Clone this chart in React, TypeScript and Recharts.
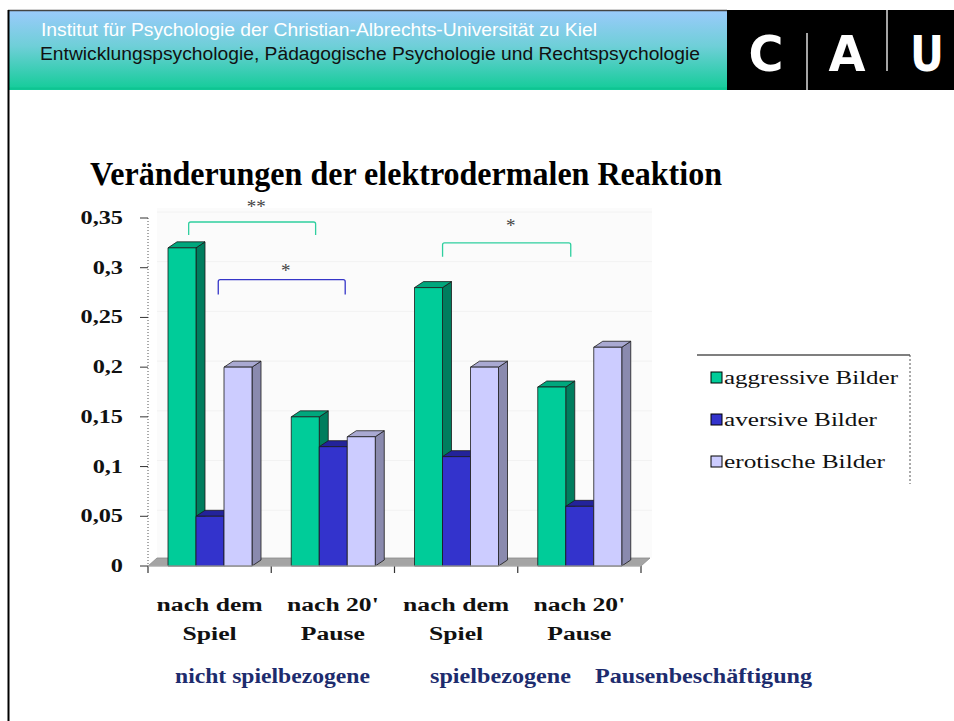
import { BarChart, Bar, XAxis, YAxis, Legend } from "recharts";

// categories (two-line tick labels)
const tickLine1 = ["nach dem", "nach 20'", "nach dem", "nach 20'"];
const tickLine2 = ["Spiel", "Pause", "Spiel", "Pause"];

// series values
const aggressive = [0.32, 0.15, 0.28, 0.18];
const aversive = [0.05, 0.12, 0.11, 0.06];
const erotic = [0.2, 0.13, 0.2, 0.22];

const yTicks = [0, 0.05, 0.1, 0.15, 0.2, 0.25, 0.3, 0.35];
const groupLabels = ["nicht spielbezogene", "spielbezogene", "Pausenbeschäftigung"];

// significance brackets: category position (index + fraction), values in data units
const bracketFrom = [0.33, 0.57, 2.39];
const bracketTo = [1.36, 1.6, 3.43];
const bracketTop = [0.346, 0.288, 0.325];
const bracketEnd = [0.333, 0.273, 0.311];
const bracketLabelAt = [0.365, 0.301, 0.346];
const bracketLabels = ["**", "*", "*"];
const bracketColors = ["#2fcf9f", "#3636c8", "#2fcf9f"];

const series = [
  { key: "aggressive", name: "aggressive Bilder", front: "#00cc99", top: "#00a77d", side: "#007d5e" },
  { key: "aversive", name: "aversive Bilder", front: "#3333cc", top: "#23239a", side: "#1c1c80" },
  { key: "erotic", name: "erotische Bilder", front: "#ccccff", top: "#a9a9d2", side: "#8a8aae" },
];

const data = tickLine1.map((l, i) => ({
  id: String(i),
  aggressive: aggressive[i],
  aversive: aversive[i],
  erotic: erotic[i],
}));

const W = 954;
const H = 721;
const PLOT_LEFT = 148;
const PLOT_RIGHT = 641;
const PLOT_TOP = 218;
const PLOT_BOTTOM = 566;
const Y_MAX = 0.35;
const BAND = (PLOT_RIGHT - PLOT_LEFT) / tickLine1.length;
const DX = 9;
const DY = 6;
const SERIF = "'Liberation Serif', 'Times New Roman', serif";
const SANS = "'Liberation Sans', Arial, sans-serif";

const xOf = (c: number) => PLOT_LEFT + BAND * c;
const yOf = (v: number) => PLOT_BOTTOM - (v / Y_MAX) * (PLOT_BOTTOM - PLOT_TOP);

function makeShape(front: string, top: string, side: string) {
  return (props: any) => {
    const { x, y, width: w, height: h } = props;
    if (!h || h <= 0) return <g />;
    return (
      <g stroke="#1a1a1a" strokeWidth={0.8} strokeLinejoin="round">
        <polygon
          points={`${x + w},${y} ${x + w + DX},${y - DY} ${x + w + DX},${y + h - DY} ${x + w},${y + h}`}
          fill={side}
        />
        <polygon points={`${x},${y} ${x + DX},${y - DY} ${x + w + DX},${y - DY} ${x + w},${y}`} fill={top} />
        <rect x={x} y={y} width={w} height={h} fill={front} />
      </g>
    );
  };
}

const YTick = (props: any) => {
  const { x, y, payload } = props;
  const label = String(payload.value).replace(".", ",");
  return (
    <text
      transform={`translate(${x},${y + 6}) scale(1.35,1)`}
      textAnchor="end"
      fontFamily={SERIF}
      fontWeight="bold"
      fontSize={18}
      fill="#111"
    >
      {label}
    </text>
  );
};

const XTick = (props: any) => {
  const { x, payload } = props;
  const i = Number(payload.value);
  return (
    <g fontFamily={SERIF} fontWeight="bold" fontSize={19} fill="#111">
      <text transform={`translate(${x},${PLOT_BOTTOM + 45}) scale(1.35,1)`} textAnchor="middle">
        {tickLine1[i]}
      </text>
      <text transform={`translate(${x},${PLOT_BOTTOM + 74}) scale(1.35,1)`} textAnchor="middle">
        {tickLine2[i]}
      </text>
    </g>
  );
};

const legendWidths = [174, 153, 161];

const renderLegend = () => (
  <svg width={216} height={132} style={{ display: "block" }}>
    <line x1={0} y1={1} x2={213} y2={1} stroke="#555" strokeWidth={1.5} />
    <line x1={213} y1={1} x2={213} y2={130} stroke="#555" strokeWidth={1} strokeDasharray="2 2" />
    {series.map((s, i) => (
      <g key={s.key}>
        <rect x={14} y={18 + i * 42} width={11} height={11} fill={s.front} stroke="#000" strokeWidth={1} />
        <text
          x={27}
          y={30 + i * 42}
          fontFamily={SERIF}
          fontSize={18}
          fill="#111"
          textLength={legendWidths[i]}
          lengthAdjust="spacingAndGlyphs"
        >
          {s.name}
        </text>
      </g>
    ))}
  </svg>
);

export default function App() {
  return (
    <div style={{ position: "absolute", left: 0, top: 0, width: W, height: H, overflow: "hidden", background: "#fff" }}>
      {/* slide frame, header, title, chart floor */}
      <svg width={W} height={H} style={{ position: "absolute", left: 0, top: 0 }}>
        <defs>
          <linearGradient id="hdr" x1="0" y1="0" x2="0" y2="1">
            <stop offset="0" stopColor="#9bcafc" />
            <stop offset="0.45" stopColor="#6fcfd8" />
            <stop offset="1" stopColor="#12cc98" />
          </linearGradient>
        </defs>
        <rect x={8} y={10} width={719} height={80} fill="url(#hdr)" />
        <line x1={8} y1={88.5} x2={727} y2={88.5} stroke="#0fc492" strokeWidth={2} />
        <line x1={8} y1={10.5} x2={727} y2={10.5} stroke="#444" strokeWidth={1.5} />
        <rect x={727} y={10} width={227} height={80} fill="#000" />
        <line x1={8.5} y1={10} x2={8.5} y2={H} stroke="#000" strokeWidth={2} />
        <text
          x={41}
          y={36}
          fontFamily={SANS}
          fontSize={18}
          fill="#fff"
          textLength={556}
          lengthAdjust="spacingAndGlyphs"
        >
          Institut für Psychologie der Christian-Albrechts-Universität zu Kiel
        </text>
        <text
          x={40}
          y={60}
          fontFamily={SANS}
          fontSize={18}
          fill="#111"
          textLength={660}
          lengthAdjust="spacingAndGlyphs"
        >
          Entwicklungspsychologie, Pädagogische Psychologie und Rechtspsychologie
        </text>
        <g fontFamily="'DejaVu Sans', sans-serif" fontWeight="bold" fontSize={50} fill="#fff" textAnchor="middle">
          <text x={766} y={71} textLength={35} lengthAdjust="spacingAndGlyphs">C</text>
          <text x={847} y={71} textLength={37} lengthAdjust="spacingAndGlyphs">A</text>
          <text x={927} y={71} textLength={34} lengthAdjust="spacingAndGlyphs">U</text>
        </g>
        <line x1={807} y1={33} x2={807} y2={90} stroke="#ddd" strokeWidth={1.5} />
        <line x1={887} y1={10} x2={887} y2={71} stroke="#ddd" strokeWidth={1.5} />

        <text
          x={90}
          y={185}
          fontFamily={SERIF}
          fontWeight="bold"
          fontSize={33}
          fill="#000"
          textLength={632}
          lengthAdjust="spacingAndGlyphs"
        >
          Veränderungen der elektrodermalen Reaktion
        </text>

        {/* back wall and floor */}
        <rect x={PLOT_LEFT + DX} y={PLOT_TOP - 10} width={PLOT_RIGHT - PLOT_LEFT + 2} height={PLOT_BOTTOM - PLOT_TOP + 2} fill="#fbfbfb" />
        {yTicks.slice(1).map((t) => (
          <line key={t} x1={PLOT_LEFT + DX} x2={PLOT_RIGHT + DX + 2} y1={yOf(t) - DY} y2={yOf(t) - DY} stroke="#f2f2f2" />
        ))}
        <polygon
          points={`${PLOT_LEFT},${PLOT_BOTTOM} ${PLOT_LEFT + DX},${PLOT_BOTTOM - 8} ${PLOT_RIGHT + DX},${PLOT_BOTTOM - 8} ${PLOT_RIGHT},${PLOT_BOTTOM}`}
          fill="#a4a4a4"
          stroke="#8c8c8c"
          strokeWidth={0.8}
        />
        {[0, 1, 2, 3, 4].map((i) => (
          <line key={i} x1={xOf(i)} x2={xOf(i)} y1={PLOT_BOTTOM} y2={PLOT_BOTTOM + 7} stroke="#333" strokeWidth={1.2} />
        ))}

        {/* group labels */}
        <g fontFamily={SERIF} fontWeight="bold" fontSize={21} fill="#1d2c6e">
          <text x={175} y={683} textLength={195} lengthAdjust="spacingAndGlyphs">
            {groupLabels[0]}
          </text>
          <text x={430} y={683} textLength={141} lengthAdjust="spacingAndGlyphs">
            {groupLabels[1]}
          </text>
          <text x={595} y={683} textLength={217} lengthAdjust="spacingAndGlyphs">
            {groupLabels[2]}
          </text>
        </g>
      </svg>

      <div style={{ position: "absolute", left: 0, top: 0 }}>
        <BarChart
          width={W}
          height={H}
          data={data}
          margin={{ top: PLOT_TOP, right: W - PLOT_RIGHT, bottom: 0, left: 0 }}
          barGap={0}
          barSize={28}
        >
          <XAxis
            dataKey="id"
            height={H - PLOT_BOTTOM}
            axisLine={{ stroke: "#b5b5b5" }}
            tickLine={false}
            tick={<XTick />}
            interval={0}
          />
          <YAxis
            width={PLOT_LEFT}
            domain={[0, Y_MAX]}
            ticks={yTicks}
            interval={0}
            tickSize={8}
            tickMargin={17}
            tick={<YTick />}
            axisLine={{ stroke: "#555", strokeDasharray: "1 2" }}
            tickLine={{ stroke: "#333" }}
          />
          <Legend
            layout="vertical"
            align="center"
            verticalAlign="middle"
            content={renderLegend}
            wrapperStyle={{ position: "absolute", left: 697, top: 354, width: 216, height: 132 }}
          />
          {series.map((s) => (
            <Bar
              key={s.key}
              dataKey={s.key}
              name={s.name}
              fill={s.front}
              shape={makeShape(s.front, s.top, s.side)}
              isAnimationActive={false}
            />
          ))}
        </BarChart>
      </div>

      {/* significance brackets */}
      <svg width={W} height={H} style={{ position: "absolute", left: 0, top: 0, pointerEvents: "none" }}>
        {bracketLabels.map((lab, i) => {
          const x1 = xOf(bracketFrom[i]);
          const x2 = xOf(bracketTo[i]);
          const yt = yOf(bracketTop[i]);
          const ye = yOf(bracketEnd[i]);
          return (
            <g key={i}>
              <path
                d={`M${x1},${ye} L${x1},${yt + 2} Q${x1},${yt} ${x1 + 2},${yt} L${x2 - 2},${yt} Q${x2},${yt} ${x2},${yt + 2} L${x2},${ye}`}
                fill="none"
                stroke={bracketColors[i]}
                strokeWidth={1.3}
              />
              <text
                x={(x1 + x2) / 2 + 4}
                y={yOf(bracketLabelAt[i]) + 10}
                textAnchor="middle"
                fontFamily={SERIF}
                fontSize={19}
                fill="#444"
              >
                {lab}
              </text>
            </g>
          );
        })}
      </svg>
    </div>
  );
}
